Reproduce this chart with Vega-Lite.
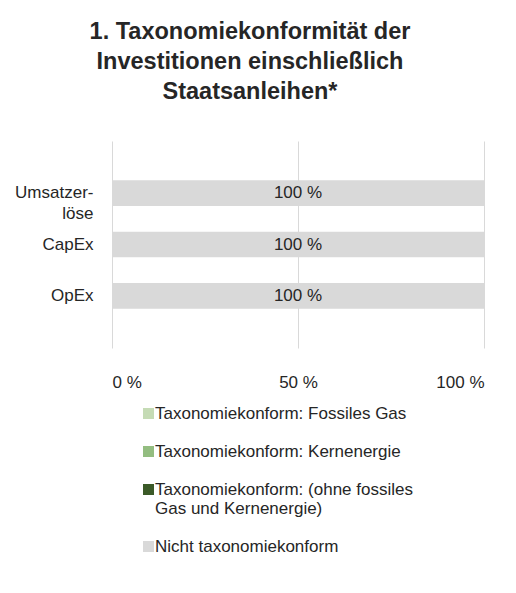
{
  "$schema": "https://vega.github.io/schema/vega-lite/v6.json",
  "autosize": {"type": "none"},
  "width": 372,
  "height": 207,
  "padding": {"left": 112, "top": 141, "right": 32, "bottom": 245},
  "background": "white",
  "title": {
    "text": ["1. Taxonomiekonformität der", "Investitionen einschließlich", "Staatsanleihen*"],
    "font": "Liberation Sans",
    "fontSize": 23.5,
    "fontWeight": "bold",
    "color": "#262626",
    "lineHeight": 30,
    "anchor": "middle",
    "dx": -48,
    "offset": 38
  },
  "data": {
    "values": [
      {"kategorie": "Umsatzerlöse", "serie": "Taxonomiekonform: Fossiles Gas", "wert": 0},
      {"kategorie": "Umsatzerlöse", "serie": "Taxonomiekonform: Kernenergie", "wert": 0},
      {"kategorie": "Umsatzerlöse", "serie": "Taxonomiekonform: (ohne fossiles Gas und Kernenergie)", "wert": 0},
      {"kategorie": "Umsatzerlöse", "serie": "Nicht taxonomiekonform", "wert": 100},
      {"kategorie": "CapEx", "serie": "Taxonomiekonform: Fossiles Gas", "wert": 0},
      {"kategorie": "CapEx", "serie": "Taxonomiekonform: Kernenergie", "wert": 0},
      {"kategorie": "CapEx", "serie": "Taxonomiekonform: (ohne fossiles Gas und Kernenergie)", "wert": 0},
      {"kategorie": "CapEx", "serie": "Nicht taxonomiekonform", "wert": 100},
      {"kategorie": "OpEx", "serie": "Taxonomiekonform: Fossiles Gas", "wert": 0},
      {"kategorie": "OpEx", "serie": "Taxonomiekonform: Kernenergie", "wert": 0},
      {"kategorie": "OpEx", "serie": "Taxonomiekonform: (ohne fossiles Gas und Kernenergie)", "wert": 0},
      {"kategorie": "OpEx", "serie": "Nicht taxonomiekonform", "wert": 100}
    ]
  },
  "encoding": {
    "y": {
      "field": "kategorie",
      "type": "nominal",
      "sort": ["Umsatzerlöse", "CapEx", "OpEx"],
      "scale": {"paddingInner": 0.5, "paddingOuter": 0.76},
      "axis": {
        "title": null,
        "domain": false,
        "ticks": false,
        "labelPadding": 19,
        "labelFont": "Liberation Sans",
        "labelFontSize": 17,
        "labelColor": "#262626",
        "labelLineHeight": 21,
        "labelExpr": "datum.label == 'Umsatzerlöse' ? ['Umsatzer-', 'löse'] : datum.label"
      }
    }
  },
  "layer": [
    {
      "mark": {"type": "bar"},
      "encoding": {
        "x": {
          "field": "wert",
          "type": "quantitative",
          "stack": "zero",
          "scale": {"domain": [0, 100]},
          "axis": {
            "title": null,
            "domain": false,
            "ticks": false,
            "values": [0, 50, 100],
            "grid": true,
            "gridColor": "#d9d9d9",
            "gridWidth": 1,
            "labelPadding": 26,
            "labelFont": "Liberation Sans",
            "labelFontSize": 17,
            "labelColor": "#262626",
            "labelExpr": "datum.value + ' %'"
          }
        },
        "color": {
          "field": "serie",
          "type": "nominal",
          "sort": ["Taxonomiekonform: Fossiles Gas", "Taxonomiekonform: Kernenergie", "Taxonomiekonform: (ohne fossiles Gas und Kernenergie)", "Nicht taxonomiekonform"],
          "scale": {
            "domain": ["Taxonomiekonform: Fossiles Gas", "Taxonomiekonform: Kernenergie", "Taxonomiekonform: (ohne fossiles Gas und Kernenergie)", "Nicht taxonomiekonform"],
            "range": ["#c5dbb5", "#93bd80", "#3b5a28", "#d9d9d9"]
          },
          "legend": {
            "title": null,
            "orient": "none",
            "legendX": 28,
            "legendY": 264,
            "direction": "vertical",
            "symbolType": "square",
            "symbolSize": 121,
            "symbolStrokeWidth": 0,
            "labelFont": "Liberation Sans",
            "labelFontSize": 17,
            "labelColor": "#262626",
            "labelOffset": -2,
            "labelLimit": 400,
            "labelLineHeight": 20,
            "labelBaseline": "middle",
            "rowPadding": 20,
            "labelExpr": "datum.label == 'Taxonomiekonform: (ohne fossiles Gas und Kernenergie)' ? ['Taxonomiekonform: (ohne fossiles', 'Gas und Kernenergie)'] : datum.label"
          }
        }
      }
    },
    {
      "transform": [
        {"filter": "datum.wert > 0"},
        {"calculate": "datum.wert + ' %'", "as": "beschriftung"}
      ],
      "mark": {"type": "text", "font": "Liberation Sans", "fontSize": 17, "color": "#262626"},
      "encoding": {
        "x": {"field": "wert", "type": "quantitative", "stack": "zero", "bandPosition": 0.5},
        "text": {"field": "beschriftung", "type": "nominal"}
      }
    }
  ],
  "config": {
    "view": {"stroke": null},
    "text": {"font": "Liberation Sans"}
  }
}
